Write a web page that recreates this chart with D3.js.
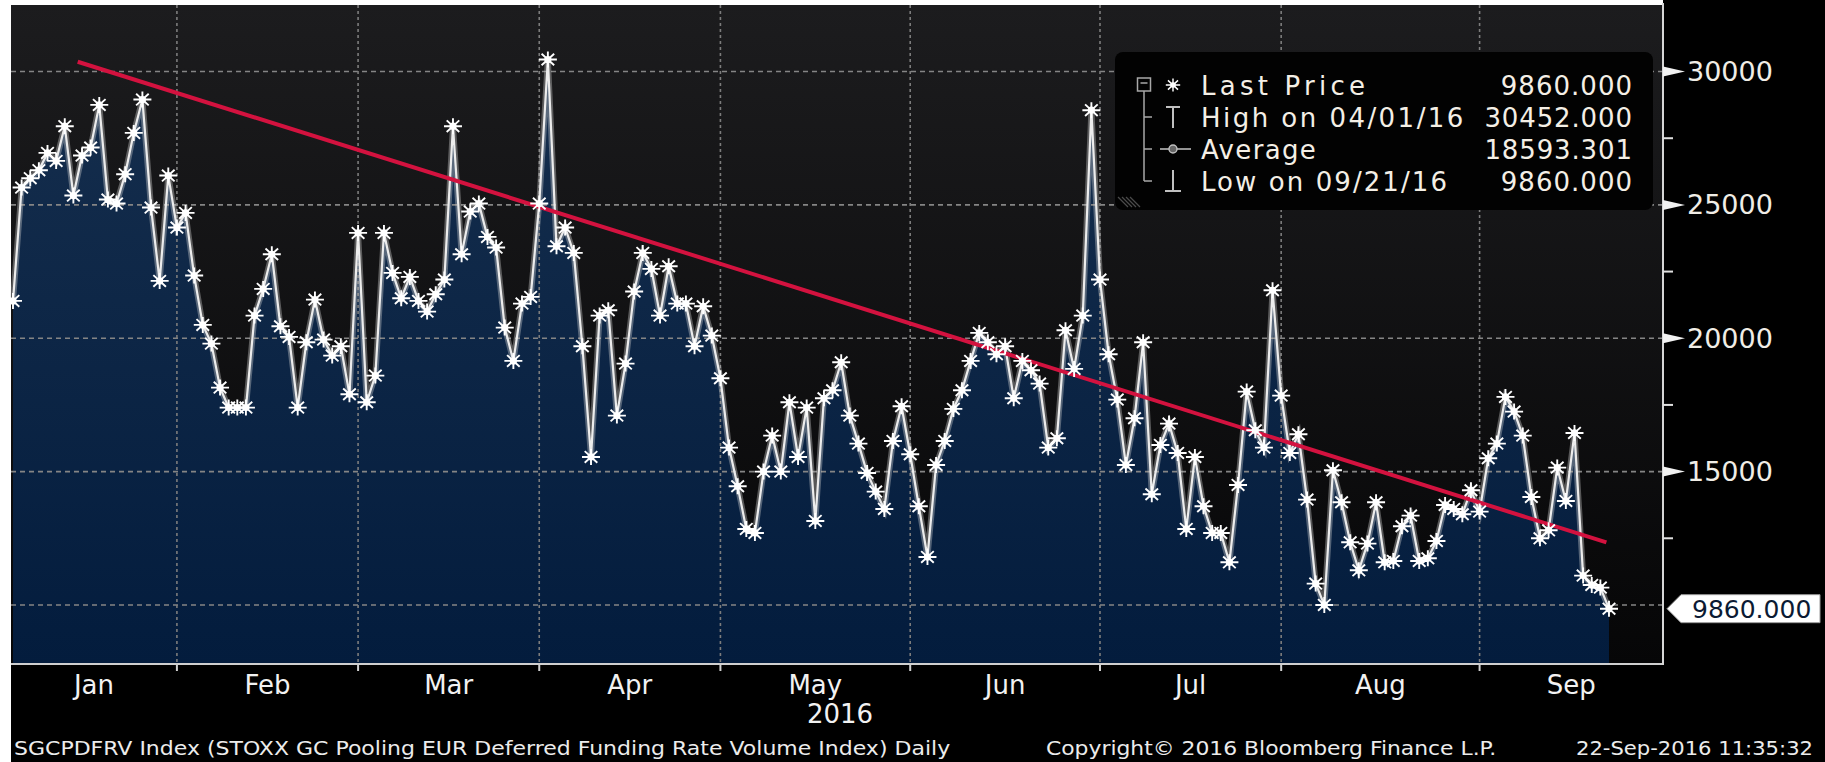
<!DOCTYPE html>
<html>
<head>
<meta charset="utf-8">
<script src="https://cdn.jsdelivr.net/npm/d3@7"></script>
<style>
  html, body { margin: 0; padding: 0; background: #fff; }
  svg { display: block; }
  text { font-family: "DejaVu Sans", Verdana, sans-serif; }
</style>
</head>
<body>
<div id="viz"></div>
<script>
// SGCPDFRV daily values, one per TARGET2 business day, 04-Jan-2016 .. 21-Sep-2016
var values = [
  // Jan
  21400, 25650, 26000, 26300, 26950, 26650, 27950, 25350, 26850, 27150,
  28750, 25200, 25050, 26150, 27700, 28950, 24900, 22150, 26100, 24150,
  // Feb
  24700, 22350, 20500, 19800, 18150, 17400, 17400, 17400, 20850, 21850,
  23150, 20450, 20050, 17400, 19850, 21450, 19950, 19350, 19700, 17900, 23950,
  // Mar
  17600, 18600, 23950, 22450, 21500, 22300, 21400, 21000, 21650, 22200,
  27950, 23150, 24750, 25050, 23800, 23400, 20400, 19150, 21300, 21550, 25050,
  // Apr
  30452, 23450, 24150, 23200, 19700, 15550, 20850, 21050, 17100, 19050,
  21750, 23200, 22600, 20850, 22700, 21300, 21300, 19700, 21200, 20100, 18500,
  // May
  15900, 14450, 12850, 12700, 15000, 16350, 15000, 17600, 15550, 17400,
  13150, 17750, 18050, 19100, 17100, 16050, 14950, 14250, 13600, 16150, 17450, 15650,
  // Jun
  13700, 11800, 15250, 16150, 17350, 18050, 19150, 20200, 19850, 19400,
  19700, 17750, 19150, 18800, 18300, 15900, 16250, 20300, 18850, 20850, 28550, 22200,
  // Jul
  19400, 17700, 15250, 17000, 19850, 14150, 16000, 16800, 15700, 12850,
  15550, 13700, 12700, 12700, 11600, 14500, 18000, 16550, 15900, 21800, 17850,
  // Aug
  15700, 16400, 13950, 10800, 10000, 15050, 13850, 12350, 11300, 12300,
  13850, 11600, 11650, 12950, 13350, 11650, 11750, 12400, 13750, 13600, 13400, 14300, 13500,
  // Sep
  15500, 16050, 17800, 17250, 16350, 14050, 12500, 12800, 15150, 13900,
  16450, 11100, 10750, 10650, 9860
];

var firstDay = '2016-01-04', lastDay = '2016-09-21';
var holidays = ['2016-03-25', '2016-03-28'];

var yGrid = [10000, 15000, 20000, 25000, 30000];
var yLabels = [15000, 20000, 25000, 30000];
var yMinor = [12500, 17500, 22500, 27500];

// hand drawn trend line (index position, value)
var trendIdx = [7.5, 184.7];
var trendVals = [30368, 12345];

var averageReported = 18593.301;
var yearLabel = '2016';
var footerLeft = 'SGCPDFRV Index (STOXX GC Pooling EUR Deferred Funding Rate Volume Index)  Daily';
var footerMid = 'Copyright\u00a9 2016 Bloomberg Finance L.P.';
var footerRight = '22-Sep-2016 11:35:32';

var W = 1825, H = 762,
    plot = {left: 11, top: 5, right: 1663, bottom: 664};

var fmtDay = d3.timeFormat('%Y-%m-%d'),
    fmtLegend = d3.timeFormat('%m/%d/%y'),
    fmtMonth = d3.timeFormat('%b'),
    fmtVal = d3.format('.3f');

var hol = new Set(holidays);
var dates = d3.timeDay.range(d3.timeParse('%Y-%m-%d')(firstDay),
                             d3.timeDay.offset(d3.timeParse('%Y-%m-%d')(lastDay), 1))
  .filter(d => d.getDay() % 6 !== 0 && !hol.has(fmtDay(d)));

var n = values.length;

var x = d3.scaleLinear().domain([0, n - 1]).range([13, 1609]);
var y = d3.scaleLinear().domain([7786, 32495]).range([plot.bottom, plot.top]);

var svg = d3.select('#viz').append('svg')
  .attr('width', W).attr('height', H);

var defs = svg.append('defs');
var bgGrad = defs.append('linearGradient').attr('id', 'bgGrad')
  .attr('gradientUnits', 'userSpaceOnUse')
  .attr('x1', 0).attr('y1', plot.top).attr('x2', 0).attr('y2', plot.bottom);
bgGrad.append('stop').attr('offset', 0).attr('stop-color', '#1c1c1e');
bgGrad.append('stop').attr('offset', 1).attr('stop-color', '#060607');

var areaGrad = defs.append('linearGradient').attr('id', 'areaGrad')
  .attr('gradientUnits', 'userSpaceOnUse')
  .attr('x1', 0).attr('y1', plot.top).attr('x2', 0).attr('y2', plot.bottom);
areaGrad.append('stop').attr('offset', 0).attr('stop-color', '#17304f');
areaGrad.append('stop').attr('offset', 1).attr('stop-color', '#031c3d');

// page background: white strip left/top, black elsewhere
svg.append('rect').attr('width', W).attr('height', H).attr('fill', '#fff');
svg.append('rect').attr('x', plot.left).attr('y', 0)
  .attr('width', W - plot.left).attr('height', H).attr('fill', '#000');
svg.append('rect').attr('x', 0).attr('y', 0)
  .attr('width', plot.right).attr('height', plot.top).attr('fill', '#fff');

svg.append('rect')
  .attr('x', plot.left).attr('y', plot.top)
  .attr('width', plot.right - plot.left).attr('height', plot.bottom - plot.top)
  .attr('fill', 'url(#bgGrad)');

// area
var area = d3.area()
  .x((d, i) => x(i))
  .y0(plot.bottom)
  .y1(d => y(d));

svg.append('path')
  .datum(values)
  .attr('d', area)
  .attr('fill', 'url(#areaGrad)');

// month boundaries = last business day of each month
var monthEnds = [];
for (var i = 0; i < n - 1; i++) {
  if (dates[i].getMonth() !== dates[i + 1].getMonth()) monthEnds.push(i);
}

// grid
svg.append('g').selectAll('line')
  .data(yGrid).enter().append('line')
  .attr('x1', plot.left).attr('x2', plot.right)
  .attr('y1', d => y(d)).attr('y2', d => y(d))
  .attr('stroke', '#858585').attr('stroke-width', 1.6)
  .attr('stroke-dasharray', '5,4');

svg.append('g').selectAll('line')
  .data(monthEnds).enter().append('line')
  .attr('x1', d => x(d)).attr('x2', d => x(d))
  .attr('y1', plot.top).attr('y2', plot.bottom)
  .attr('stroke', '#7c7c7c').attr('stroke-width', 1.6)
  .attr('stroke-dasharray', '3,3');

// price line
var line = d3.line().x((d, i) => x(i)).y(d => y(d));

svg.append('path').datum(values).attr('d', line)
  .attr('fill', 'none').attr('stroke', 'rgba(200,200,200,0.4)').attr('stroke-width', 6);
svg.append('path').datum(values).attr('d', line)
  .attr('fill', 'none').attr('stroke', '#ececec').attr('stroke-width', 2.2);

// trend line
svg.append('line')
  .attr('x1', x(trendIdx[0])).attr('y1', y(trendVals[0]))
  .attr('x2', x(trendIdx[1])).attr('y2', y(trendVals[1]))
  .attr('stroke', '#d3123f').attr('stroke-width', 4);

// star markers
var starPath = 'M-9,0H9M0,-8V8M-6.3,-5.8L6.3,5.8M-6.3,5.8L6.3,-5.8';
var stars = svg.append('g').selectAll('g')
  .data(values).enter().append('g')
  .attr('transform', (d, i) => `translate(${x(i)},${y(d)})`);
stars.append('path').attr('d', starPath)
  .attr('stroke', '#fff').attr('stroke-width', 1.9).attr('fill', 'none');
stars.append('circle').attr('r', 3.6).attr('fill', '#fff');

// frame: bottom axis and right axis
svg.append('line')
  .attr('x1', plot.left).attr('x2', plot.right)
  .attr('y1', plot.bottom).attr('y2', plot.bottom)
  .attr('stroke', '#cfcfcf').attr('stroke-width', 2);
svg.append('line')
  .attr('x1', plot.right).attr('x2', plot.right)
  .attr('y1', 3).attr('y2', plot.bottom + 1)
  .attr('stroke', '#d6d6d6').attr('stroke-width', 2);

svg.append('g').selectAll('line')
  .data(monthEnds).enter().append('line')
  .attr('x1', d => x(d)).attr('x2', d => x(d))
  .attr('y1', plot.bottom).attr('y2', plot.bottom + 7)
  .attr('stroke', '#d0d0d0').attr('stroke-width', 2);

// month labels centred between boundaries
var bounds = [plot.left].concat(monthEnds.map(d => x(d)), [plot.right]);
var monthStarts = [0].concat(monthEnds.map(d => d + 1));
svg.append('g').selectAll('text')
  .data(monthStarts).enter().append('text')
  .attr('x', (d, k) => (bounds[k] + bounds[k + 1]) / 2)
  .attr('y', 694)
  .attr('text-anchor', 'middle')
  .attr('font-size', 26)
  .attr('fill', '#f2f2f2')
  .text(d => fmtMonth(dates[d]));

svg.append('text')
  .attr('x', (plot.left + plot.right) / 2 + 3).attr('y', 723)
  .attr('text-anchor', 'middle').attr('font-size', 26).attr('fill', '#f2f2f2')
  .text(yearLabel);

// right axis
svg.append('g').selectAll('path')
  .data(yLabels).enter().append('path')
  .attr('d', d => `M${plot.right},${y(d) - 5}L${plot.right + 22},${y(d)}L${plot.right},${y(d) + 5}Z`)
  .attr('fill', '#f2f2f2');
svg.append('g').selectAll('line')
  .data(yMinor).enter().append('line')
  .attr('x1', plot.right).attr('x2', plot.right + 10)
  .attr('y1', d => y(d)).attr('y2', d => y(d))
  .attr('stroke', '#e0e0e0').attr('stroke-width', 2);
svg.append('g').selectAll('text')
  .data(yLabels).enter().append('text')
  .attr('x', plot.right + 24).attr('y', d => y(d) + 9.5)
  .attr('font-size', 27).attr('fill', '#f0ede6')
  .text(d => d);

// last price marker on the axis
var last = values[n - 1], ly = y(last);
svg.append('path')
  .attr('d', `M${plot.right + 4},${ly}L${plot.right + 18},${ly - 14}H1820V${ly + 14}H${plot.right + 18}Z`)
  .attr('fill', '#fff').attr('stroke', '#9a9a9a').attr('stroke-width', 1);
svg.append('text')
  .attr('x', 1692).attr('y', ly + 9)
  .attr('font-size', 25).attr('fill', '#0b1a33')
  .text(fmtVal(last));

// legend
var hi = d3.maxIndex(values), lo = d3.minIndex(values);
var rows = [
  {icon: 'star', label: 'Last Price', value: last},
  {icon: 'high', label: 'High on ' + fmtLegend(dates[hi]), value: values[hi]},
  {icon: 'avg', label: 'Average', value: averageReported},
  {icon: 'low', label: 'Low on ' + fmtLegend(dates[lo]), value: values[lo]}
];
var leg = svg.append('g');
leg.append('rect')
  .attr('x', 1115).attr('y', 52).attr('width', 538).attr('height', 158)
  .attr('rx', 8).attr('fill', '#020202');

var rowY = k => 85 + k * 32;
var cw = 16.4;

// tree connector
leg.append('rect').attr('x', 1137.5).attr('y', 78).attr('width', 13).attr('height', 13)
  .attr('fill', 'none').attr('stroke', '#a8a8a8').attr('stroke-width', 1.5);
leg.append('line').attr('x1', 1140.5).attr('x2', 1147.5).attr('y1', 83).attr('y2', 83)
  .attr('stroke', '#a8a8a8').attr('stroke-width', 1.5);
leg.append('line').attr('x1', 1144).attr('x2', 1144).attr('y1', 91).attr('y2', rowY(3))
  .attr('stroke', '#a8a8a8').attr('stroke-width', 1.5);
leg.selectAll('.branch').data([1, 2, 3]).enter().append('line')
  .attr('x1', 1144).attr('x2', 1152).attr('y1', k => rowY(k)).attr('y2', k => rowY(k))
  .attr('stroke', '#a8a8a8').attr('stroke-width', 1.5);

var ix = 1173;
rows.forEach(function(r, k) {
  var cy = rowY(k);
  var g = leg.append('g');
  if (r.icon === 'star') {
    g.append('path').attr('d', starPath)
      .attr('transform', `translate(${ix},${cy}) scale(0.8)`)
      .attr('stroke', '#fff').attr('stroke-width', 1.8).attr('fill', 'none');
    g.append('circle').attr('cx', ix).attr('cy', cy).attr('r', 2.8).attr('fill', '#fff');
  } else if (r.icon === 'high') {
    g.append('path').attr('d', `M${ix - 7},${cy - 10}H${ix + 7}M${ix},${cy - 10}V${cy + 11}`)
      .attr('stroke', '#c0c0c0').attr('stroke-width', 2).attr('fill', 'none');
  } else if (r.icon === 'avg') {
    g.append('line').attr('x1', ix - 13).attr('x2', ix + 18).attr('y1', cy).attr('y2', cy)
      .attr('stroke', '#b8b8b8').attr('stroke-width', 1.6);
    g.append('circle').attr('cx', ix).attr('cy', cy).attr('r', 4)
      .attr('fill', '#666').attr('stroke', '#c0c0c0').attr('stroke-width', 1.4);
  } else {
    g.append('path').attr('d', `M${ix},${cy - 11}V${cy + 10}M${ix - 8},${cy + 10}H${ix + 8}`)
      .attr('stroke', '#c0c0c0').attr('stroke-width', 2).attr('fill', 'none');
  }
  g.append('text')
    .attr('x', 1201).attr('y', cy + 9.5)
    .attr('font-size', 26).attr('fill', '#f4efe6')
    .attr('textLength', r.label.length * cw).attr('lengthAdjust', 'spacing')
    .text(r.label);
  var vs = fmtVal(r.value);
  g.append('text')
    .attr('x', 1632 - vs.length * cw).attr('y', cy + 9.5)
    .attr('font-size', 26).attr('fill', '#f4efe6')
    .attr('textLength', vs.length * cw).attr('lengthAdjust', 'spacing')
    .text(vs);
});

// resize grip in the legend corner
leg.selectAll('.grip').data([0, 1, 2, 3]).enter().append('line')
  .attr('x1', k => 1118 + k * 4).attr('y1', 197)
  .attr('x2', k => 1128 + k * 4).attr('y2', 207)
  .attr('stroke', '#4a4a4a').attr('stroke-width', 1.2);

// footer
var fcw = 11.85;
[[footerLeft, 14], [footerMid, 1046], [footerRight, 1576]].forEach(function(f) {
  svg.append('text')
    .attr('x', f[1]).attr('y', 755)
    .attr('font-size', 19).attr('fill', '#ececec')
    .attr('textLength', f[0].length * fcw).attr('lengthAdjust', 'spacingAndGlyphs')
    .text(f[0]);
});
</script>
</body>
</html>
